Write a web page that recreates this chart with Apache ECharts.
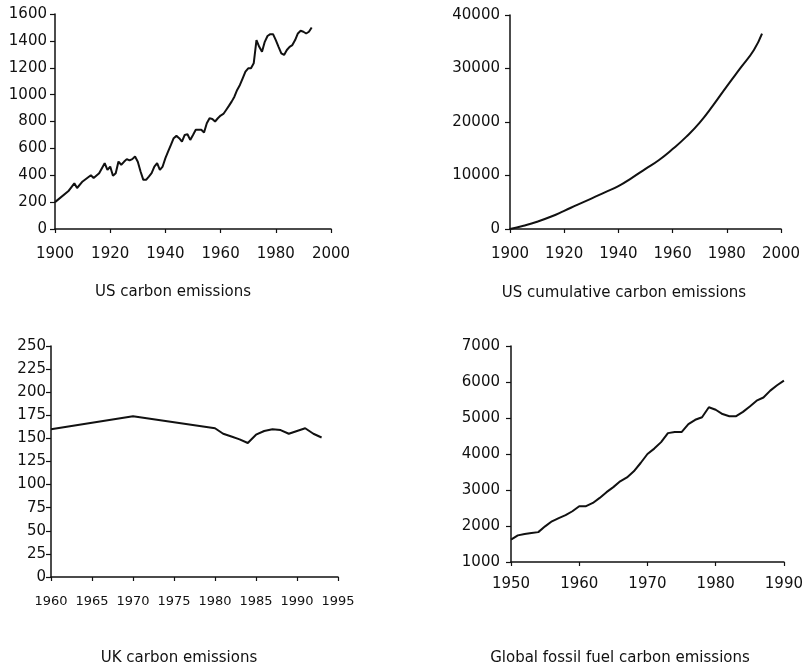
<!DOCTYPE html>
<html>
<head>
<meta charset="utf-8">
<script src="https://cdn.jsdelivr.net/npm/echarts@6/dist/echarts.min.js"></script>
<style>
html,body{margin:0;padding:0;background:#fff;}
#main{width:806px;height:670px;}
</style>
</head>
<body>
<div id="main"></div>
<script>
// ---- Data ----
const usYears = [1900,1905,1907,1908,1910,1913,1914,1916,1918,1919,1920,1921,1922,1923,1924,1925,1926,1927,1928,1929,1930,1931,1932,1933,1934,1935,1936,1937,1938,1939,1940,1941,1942,1943,1944,1945,1946,1947,1948,1949,1950,1951,1952,1953,1954,1955,1956,1957,1958,1959,1960,1961,1962,1963,1964,1965,1966,1967,1968,1969,1970,1971,1972,1973,1974,1975,1976,1977,1978,1979,1980,1981,1982,1983,1984,1985,1986,1987,1988,1989,1990,1991,1992,1993];
const usEmissions = [200,285,340,305,354,400,380,415,490,440,465,396,415,502,478,500,520,510,520,540,500,428,366,366,390,416,465,490,440,465,527,577,626,676,693,676,651,700,705,663,700,738,738,738,718,787,824,819,800,824,844,856,886,916,948,985,1035,1072,1121,1171,1196,1196,1233,1406,1356,1319,1393,1436,1450,1450,1406,1356,1307,1295,1332,1356,1369,1406,1455,1475,1468,1455,1468,1500];

const cumYears = [1900,1905,1910,1915,1920,1925,1930,1935,1940,1945,1950,1955,1960,1965,1970,1975,1980,1985,1990,1993];
const usCumulative = [0,620,1360,2280,3400,4570,5680,6850,8020,9570,11230,12900,14940,17220,19880,23150,26670,30060,33460,36500];

const ukYears = [1960,1970,1980,1981,1982,1983,1984,1985,1986,1987,1988,1989,1990,1991,1992,1993];
const ukEmissions = [160,174,161,155,152,149,145,154,158,160,159,155,158,161,155,151];

const globalYears = [1950,1951,1952,1953,1954,1955,1956,1957,1958,1959,1960,1961,1962,1963,1964,1965,1966,1967,1968,1969,1970,1971,1972,1973,1974,1975,1976,1977,1978,1979,1980,1981,1982,1983,1984,1985,1986,1987,1988,1989,1990];
const globalEmissions = [1620,1740,1780,1805,1830,1990,2130,2220,2300,2410,2550,2550,2640,2780,2940,3080,3240,3350,3520,3750,4000,4150,4330,4580,4610,4610,4830,4950,5020,5300,5230,5110,5050,5050,5170,5320,5480,5570,5760,5910,6040];

const titles = ["US carbon emissions","US cumulative carbon emissions","UK carbon emissions","Global fossil fuel carbon emissions"];

// ---- Chart ----
const pairs = (xs, ys) => xs.map((x, i) => [x, ys[i]]);
const FONT = 'DejaVu Sans';
const INK = '#111';

function xAxis(gi, min, max, interval, fs, margin) {
  return {
    type: 'value', gridIndex: gi, min: min, max: max, interval: interval,
    axisLine: {show: true, onZero: false, lineStyle: {color: INK, width: 1.5}},
    axisTick: {show: true, length: 4, lineStyle: {color: INK, width: 1.2}},
    axisLabel: {color: INK, fontFamily: FONT, fontSize: fs, margin: margin, showMinLabel: true, showMaxLabel: true, formatter: v => String(v)},
    splitLine: {show: false}
  };
}
function yAxis(gi, min, max, interval, fs, margin) {
  return {
    type: 'value', gridIndex: gi, min: min, max: max, interval: interval,
    axisLine: {show: true, onZero: false, lineStyle: {color: INK, width: 1.5}},
    axisTick: {show: true, length: 5, lineStyle: {color: INK, width: 1.2}},
    axisLabel: {color: INK, fontFamily: FONT, fontSize: fs, margin: margin, showMinLabel: true, showMaxLabel: true, formatter: v => String(v)},
    splitLine: {show: false}
  };
}
function line(gi, data, smooth) {
  return {
    type: 'line', xAxisIndex: gi, yAxisIndex: gi, data: data, smooth: smooth,
    symbol: 'none', lineStyle: {color: INK, width: 2}, animation: false
  };
}

const chart = echarts.init(document.getElementById('main'), null, {renderer: 'canvas'});
chart.setOption({
  backgroundColor: '#fff',
  animation: false,
  grid: [
    {left: 55, top: 14, width: 276, height: 215},
    {left: 510, top: 15, width: 271, height: 214},
    {left: 51, top: 346, width: 287, height: 231},
    {left: 511, top: 346, width: 275, height: 216}
  ],
  xAxis: [
    xAxis(0, 1900, 2000, 20, 15, 18),
    xAxis(1, 1900, 2000, 20, 15, 18),
    xAxis(2, 1960, 1995, 5, 13, 18),
    xAxis(3, 1950, 1990, 10, 15, 15)
  ],
  yAxis: [
    yAxis(0, 0, 1600, 200, 15, 8),
    yAxis(1, 0, 40000, 10000, 15, 10),
    yAxis(2, 0, 250, 25, 15, 5),
    yAxis(3, 1000, 7000, 1000, 15, 11)
  ],
  series: [
    line(0, pairs(usYears, usEmissions), false),
    line(1, pairs(cumYears, usCumulative), true),
    line(2, pairs(ukYears, ukEmissions), false),
    line(3, pairs(globalYears, globalEmissions), false)
  ],
  graphic: [
    {type: 'text', left: null, x: 173, y: 292, style: {text: titles[0], font: '15px "DejaVu Sans"', fill: INK, textAlign: 'center', textVerticalAlign: 'middle'}},
    {type: 'text', x: 624, y: 293, style: {text: titles[1], font: '15px "DejaVu Sans"', fill: INK, textAlign: 'center', textVerticalAlign: 'middle'}},
    {type: 'text', x: 179, y: 658, style: {text: titles[2], font: '15px "DejaVu Sans"', fill: INK, textAlign: 'center', textVerticalAlign: 'middle'}},
    {type: 'text', x: 620, y: 658, style: {text: titles[3], font: '15px "DejaVu Sans"', fill: INK, textAlign: 'center', textVerticalAlign: 'middle'}}
  ]
});
</script>
</body>
</html>
